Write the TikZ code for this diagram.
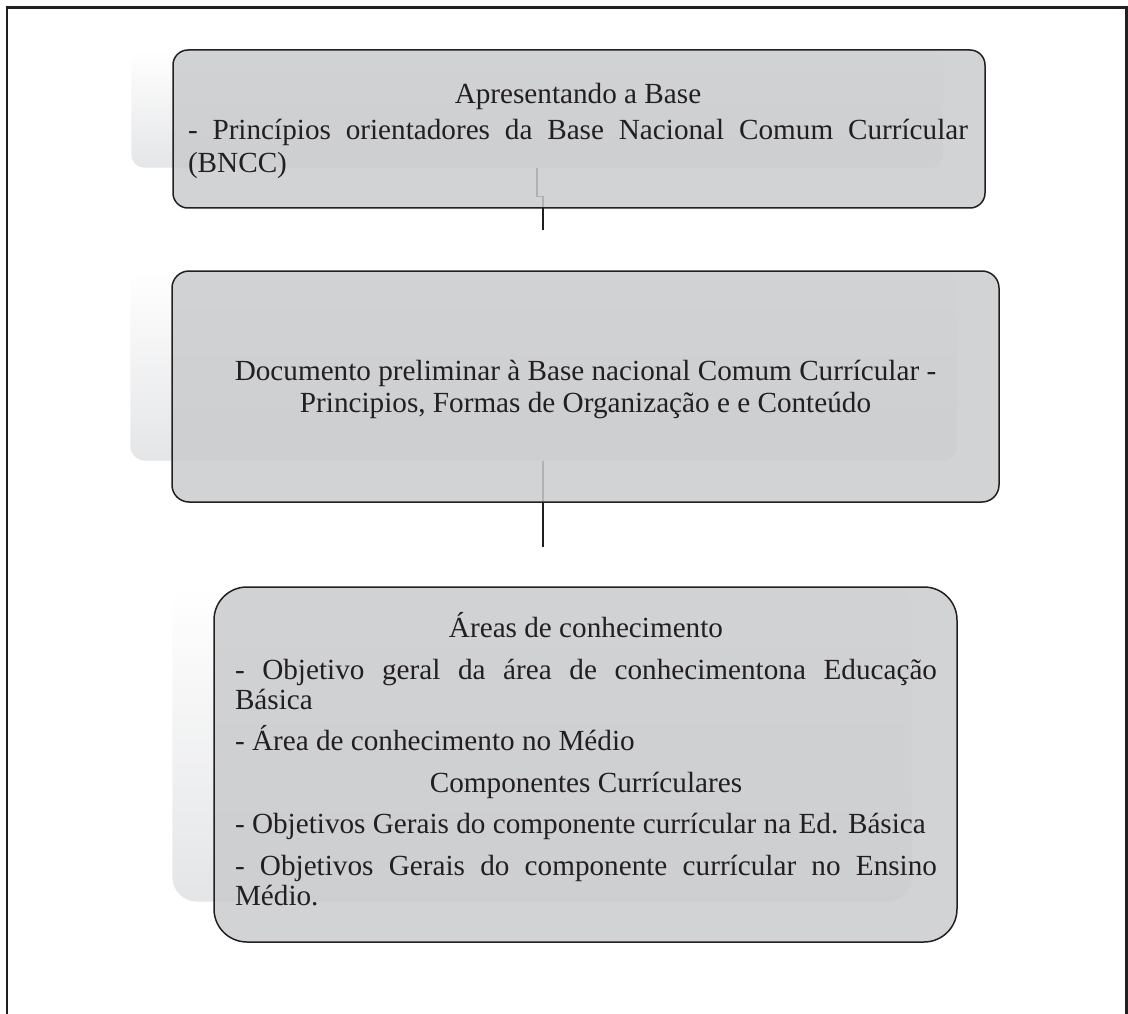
\documentclass[tikz,border=0pt]{standalone}
\usepackage{fontspec}
\setmainfont{Liberation Serif}
\definecolor{boxgray}{RGB}{201,203,204}
\definecolor{ink}{RGB}{35,31,32}
\definecolor{backgray}{RGB}{228,229,231}
\tolerance=10000
\hbadness=10000
\hyphenpenalty=10000
\tikzset{
  backrect/.style={rectangle, rounded corners=#1, draw=white, line width=0.6pt,
    top color=white, middle color=white!60!backgray, bottom color=backgray, inner sep=0pt},
  mainbox/.style={rectangle, rounded corners=#1, draw=ink, line width=1.5pt,
    fill=boxgray, fill opacity=0.85, draw opacity=1, inner sep=0pt},
  link/.style={draw=ink, line width=1.3pt},
  boxtext/.style={inner sep=0pt, text=ink},
  frameline/.style={draw=ink, line width=2.2pt},
}
\begin{document}
\begin{tikzpicture}[x=1pt,y=-1pt]
\useasboundingbox (0,0) rectangle (1128,1014);
% frame
\draw[frameline] (7,1014) -- (7,7.5) -- (1126.5,7.5) -- (1126.5,1014);
% back shapes
\node[backrect=13, minimum width=812pt, minimum height=118pt] (back1) at (537,109) {};
\node[backrect=15, minimum width=827pt, minimum height=190pt] (back2) at (543.5,366) {};
\node[backrect=25, minimum width=740pt, minimum height=315pt] (back3) at (542,744.5) {};
% connectors
\coordinate (c1) at (543,230);
\coordinate (c2) at (543,547);
\draw[link] (back1.south) -- ++(0,28) -| (c1);
\draw[link] (back2.south -| c2) -- (c2);
% main boxes
\node[mainbox=15, minimum width=812pt, minimum height=158pt] (box1) at (579,129) {};
\node[mainbox=17, minimum width=827pt, minimum height=231pt] (box2) at (585.5,386.5) {};
\node[mainbox=33, minimum width=743pt, minimum height=355pt] (box3) at (585.5,764.5) {};
% texts
\node[boxtext, text width=780pt, align=justify, font=\fontsize{29.2}{33}\selectfont] (t1) at (578,131)
  {\parindent=0pt\parskip=3pt
   {\centering Apresentando a Base\par}
   - Princípios orientadores da Base Nacional Comum Currícular\linebreak (BNCC)};
\node[boxtext, align=center, font=\fontsize{29.2}{32}\selectfont] (t2) at (585.5,389)
  {Documento preliminar à Base nacional Comum Currícular -\\Principios, Formas de Organização e e Conteúdo};
\node[boxtext, text width=702pt, align=justify, font=\fontsize{29.2}{30}\selectfont] (t3) at (586,759)
  {\parindent=0pt\parskip=11.5pt
   {\centering Áreas de conhecimento\par}
   - Objetivo geral da área de conhecimentona Educação\linebreak Básica\par
   - Área de conhecimento no Médio\par
   {\centering Componentes Currículares\par}
   - Objetivos Gerais do componente currícular na Ed. Básica\par
   - Objetivos Gerais do componente currícular no Ensino\linebreak Médio.};
\end{tikzpicture}
\end{document}
